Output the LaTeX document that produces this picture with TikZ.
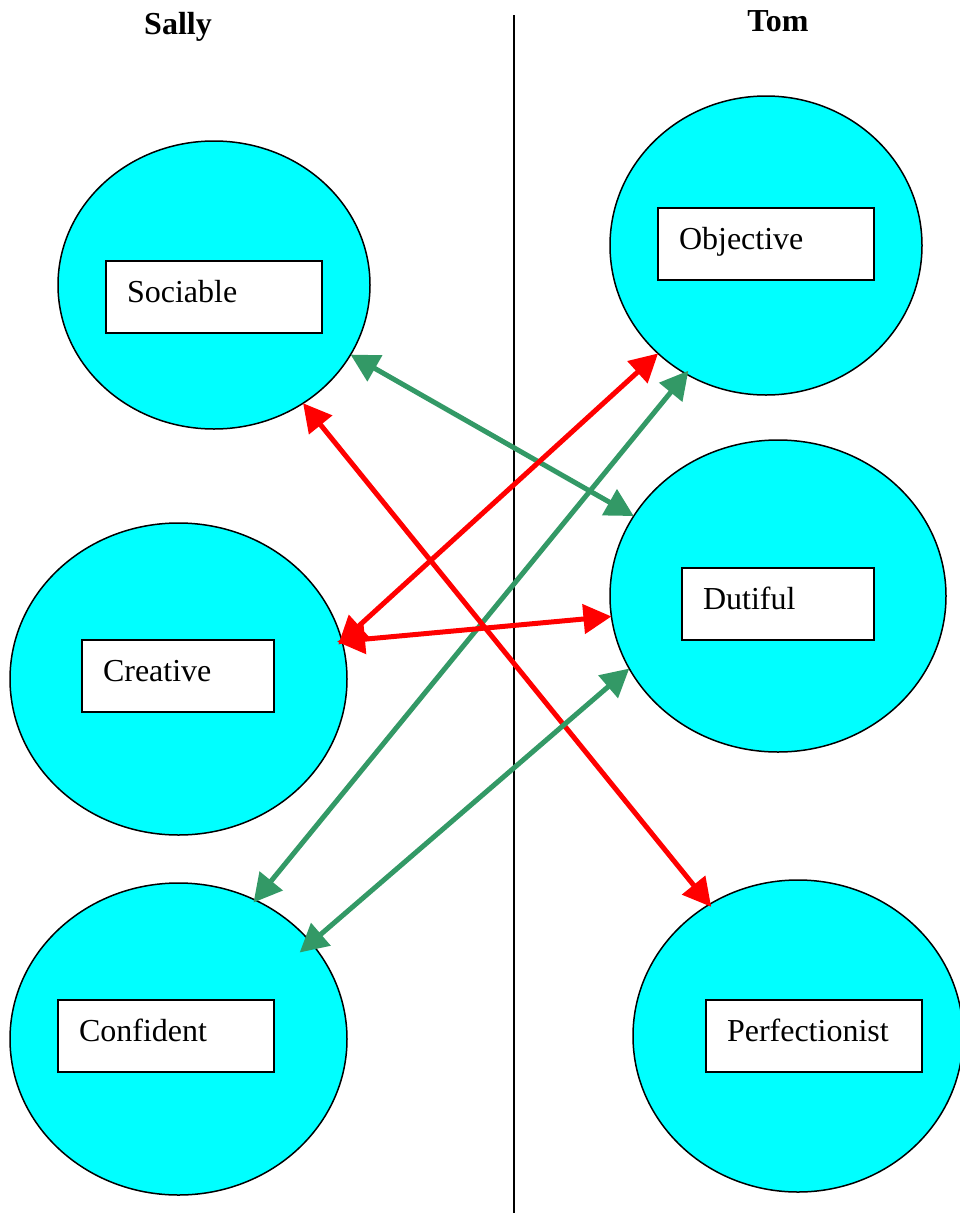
\documentclass[tikz,border=0pt]{standalone}
\usepackage{fontspec}
\setmainfont{Liberation Serif}
\usetikzlibrary{shapes.geometric,arrows.meta}
\definecolor{linkgreen}{RGB}{51,153,102}
\definecolor{linkred}{RGB}{255,0,0}
\definecolor{traitfill}{RGB}{0,255,255}
\begin{document}
\begin{tikzpicture}[x=1pt,y=-1pt,
  trait/.style={ellipse,draw=black,line width=1.5pt,fill=traitfill,inner sep=0pt,outer sep=0pt},
  labelbox/.style={rectangle,draw=black,line width=1.8pt,fill=white,minimum height=72pt,
    inner xsep=21pt,inner ysep=0pt,outer sep=0pt,align=left,
    text height=20pt,text depth=10pt,font=\fontsize{32}{38}\selectfont},
  title/.style={font=\fontsize{32}{38}\selectfont\bfseries,anchor=base,inner sep=0pt},
  link/.style={line width=5pt,{Triangle[length=28pt,width=29pt]}-{Triangle[length=28pt,width=29pt]}},
  greenlink/.style={link,draw=linkgreen,fill=linkgreen},
  redlink/.style={link,draw=linkred,fill=linkred}]
\useasboundingbox (0,0) rectangle (959,1213);

% divider and titles
\coordinate (divtop) at (514,15);
\coordinate (divbot) at (514,1213);
\draw[line width=1.5pt] (divtop) -- (divbot);
\node[title] (sally) at (178,34) {Sally};
\node[title] (tom) at (778,31) {Tom};

% ellipses
\node[trait,minimum width=312pt,minimum height=288pt] (soc) at (214,285) {};
\node[trait,minimum width=312pt,minimum height=299pt] (obj) at (766,245.5) {};
\node[trait,minimum width=337pt,minimum height=312pt] (cre) at (178.5,679) {};
\node[trait,minimum width=336pt,minimum height=312pt] (dut) at (778,596) {};
\node[trait,minimum width=337pt,minimum height=312pt] (con) at (178.5,1039) {};
\node[trait,minimum width=330pt,minimum height=312pt] (per) at (798,1036) {};

% labels
\node[labelbox,text width=174pt] (socl) at (214,297) {Sociable};
\node[labelbox,text width=174pt] (objl) at (766,244) {Objective};
\node[labelbox,text width=150pt] (crel) at (178,676) {Creative};
\node[labelbox,text width=150pt] (dutl) at (778,604) {Dutiful};
\node[labelbox,text width=174pt] (conl) at (166,1036) {Confident};
\node[labelbox,text width=174pt] (perl) at (814,1036) {Perfectionist};

% links
\draw[greenlink] (soc.-27) -- (dut.151.8);
\draw[redlink,shorten >=-5pt] (obj.-135) -- (cre.13.4);
\draw[greenlink,shorten <=-4pt,shorten >=-3pt] (obj.-122.7) -- (con.61.8);
\draw[redlink,shorten >=-3pt] (soc.-53.8) -- (per.124.7);
\draw[redlink,shorten <=-5pt] (cre.13.4) -- (dut.-173);
\draw[greenlink,shorten >=-15pt] (dut.-154.5) -- (con.36.1);
\end{tikzpicture}
\end{document}
